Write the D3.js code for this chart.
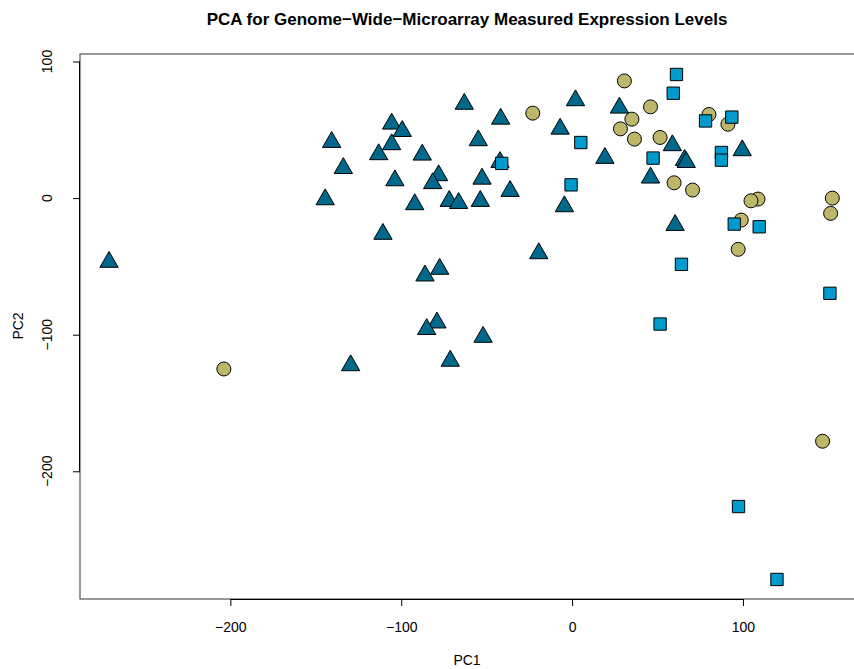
<!DOCTYPE html>
<html>
<head>
<meta charset="utf-8">
<script src="https://cdn.jsdelivr.net/npm/d3@7"></script>
<style>
    body { margin: 0; background: white; }
    text { font-family: "Liberation Sans", Arial, sans-serif; fill: black; }
</style>
</head>
<body>
<div id="container"></div>
<script>
// PC1 / PC2 scores, one array per group
const groupA = [ // triangles
    [-271.0, -46.8], [-140.7, 41.0], [-133.9, 21.9], [-144.5, -1.0], [-105.6, 54.4],
    [-99.4, 49.0], [-105.6, 39.3], [-113.2, 32.0], [-103.7, 12.9], [-87.7, 31.7],
    [-92.1, -4.6], [-78.1, 16.6], [-81.6, 10.8], [-71.9, -2.2], [-66.4, -3.7],
    [-54.9, 42.2], [-63.1, 68.9], [-41.8, 58.0], [-42.2, 26.3], [-52.7, 14.1],
    [-53.7, -2.2], [-36.3, 5.1], [-7.0, 50.7], [2.0, 71.5], [-4.5, -6.1],
    [19.2, 29.3], [-19.5, -40.5], [27.7, 66.1], [45.9, 14.9], [58.7, 38.6],
    [65.8, 27.8], [66.8, 26.3], [60.3, -19.8], [99.6, 34.9], [-110.7, -26.3],
    [-77.5, -51.9], [-86.1, -56.8], [-79.1, -91.2], [-85.1, -96.0], [-52.1, -101.7],
    [-71.3, -119.2], [-129.6, -122.5]
];
const groupB = [ // circles
    [-203.8, -125.1], [-23.0, 62.2], [30.6, 85.8], [45.9, 66.8], [35.0, 57.8],
    [28.3, 50.7], [36.5, 43.2], [51.5, 44.4], [80.1, 61.2], [91.2, 54.1],
    [59.7, 11.2], [70.5, 5.9], [108.8, -0.7], [104.7, -2.0], [152.3, 0.0],
    [151.3, -11.2], [99.0, -16.1], [97.2, -37.5], [146.6, -178.0]
];
const groupC = [ // squares
    [-41.2, 25.4], [5.1, 40.7], [-0.6, 9.7], [61.1, 90.5], [59.2, 76.8],
    [93.5, 59.3], [78.1, 56.5], [47.4, 29.3], [87.4, 33.4], [87.4, 27.8],
    [94.9, -19.0], [109.5, -21.0], [64.0, -48.5], [150.9, -69.7], [51.5, -92.2],
    [97.4, -225.8], [119.9, -279.2]
];
const xTicks = [-200, -100, 0, 100];
const yTicks = [-200, -100, 0, 100];

const config = {
    width: 854,
    height: 669,
    left: 80,
    right: 860,
    top: 54,
    bottom: 599,
}

const fmt = d => d < 0 ? '\u2212' + Math.abs(d) : d;

const svg = d3.select('#container')
    .append('svg')
    .attr('width', config.width)
    .attr('height', config.height)

const xScale = d3.scaleLinear()
    .domain([-288, 168.5])
    .range([config.left, config.right])

const yScale = d3.scaleLinear()
    .domain([-293.5, 105.5])
    .range([config.bottom, config.top])

svg.append("text")
    .attr("text-anchor", "middle")
    .attr("x", 467)
    .attr("y", 25)
    .text("PCA for Genome\u2212Wide\u2212Microarray Measured Expression Levels")
    .style("font-size", "17px")
    .style("font-weight", "bold");

// plot frame
svg.append('rect')
    .attr('x', config.left)
    .attr('y', config.top)
    .attr('width', config.right - config.left)
    .attr('height', config.bottom - config.top)
    .attr('fill', 'none')
    .attr('stroke', '#555')
    .attr('stroke-width', 1.2)

const xAxis = svg.append('g')
    .attr('transform', `translate(0,${config.bottom})`)
    .call(d3.axisBottom(xScale)
        .tickValues(xTicks)
        .tickSize(7)
        .tickPadding(16)
        .tickFormat(fmt))
xAxis.select('.domain').attr('d', `M${xScale(xTicks[0])},0.5H${xScale(xTicks[xTicks.length - 1])}`)
xAxis.selectAll('text').style('font-size', '14px').style('font-family', '"Liberation Sans", Arial, sans-serif')

const yAxis = svg.append('g')
    .attr('transform', `translate(${config.left},0)`)
    .call(d3.axisLeft(yScale)
        .tickValues(yTicks)
        .tickSize(7)
        .tickFormat(''))
yAxis.select('.domain').attr('d', `M-0.5,${yScale(yTicks[0])}V${yScale(yTicks[yTicks.length - 1])}`)

svg.append('g')
    .selectAll('text')
    .data(yTicks)
    .join('text')
    .attr('transform', d => `translate(47,${yScale(d)}) rotate(-90)`)
    .attr('text-anchor', 'middle')
    .attr('dy', '0.35em')
    .style('font-size', '14px')
    .text(fmt)

svg.append("text")
    .attr("text-anchor", "middle")
    .attr("x", 467)
    .attr("y", 665)
    .text("PC1")
    .style("font-size", "14px");

svg.append("text")
    .attr("text-anchor", "middle")
    .attr("transform", "translate(18,326) rotate(-90)")
    .attr("dy", "0.35em")
    .text("PC2")
    .style("font-size", "14px");

const points = svg.append('g')
    .attr('stroke', 'black')
    .attr('stroke-width', 1)

points.selectAll('.tri')
    .data(groupA)
    .join('path')
    .attr('class', 'tri')
    .attr('d', d3.symbol(d3.symbolTriangle, 145))
    .attr('transform', d => `translate(${xScale(d[0])},${yScale(d[1])})`)
    .attr('fill', '#00688B')

points.selectAll('circle')
    .data(groupB)
    .join('circle')
    .attr('cx', d => xScale(d[0]))
    .attr('cy', d => yScale(d[1]))
    .attr('r', 7)
    .attr('fill', '#BDB76B')

points.selectAll('.sq')
    .data(groupC)
    .join('path')
    .attr('class', 'sq')
    .attr('d', d3.symbol(d3.symbolSquare, 152))
    .attr('transform', d => `translate(${xScale(d[0])},${yScale(d[1])})`)
    .attr('fill', '#009ACD')
</script>
</body>
</html>
